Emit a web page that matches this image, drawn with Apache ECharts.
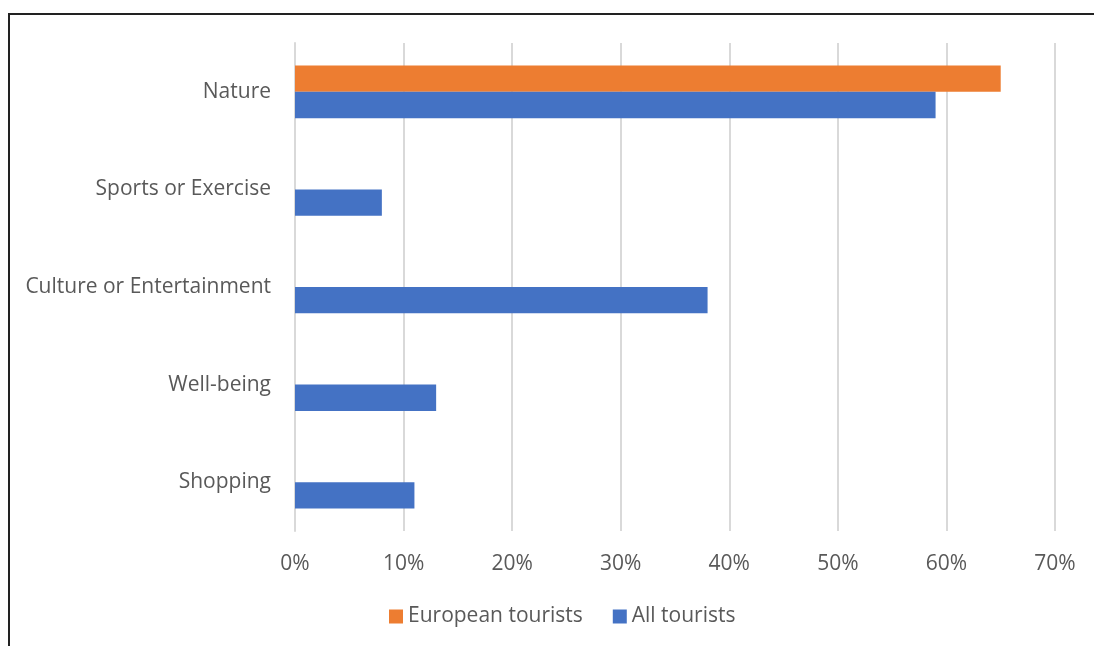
<!DOCTYPE html>
<html>
<head>
<meta charset="utf-8">
<script src="https://cdn.jsdelivr.net/npm/echarts@6/dist/echarts.min.js"></script>
<style>
  html, body { margin: 0; padding: 0; background: #fff; overflow: hidden; }
  #frame {
    position: absolute; left: 8px; top: 13px;
    width: 1200px; height: 800px;
    border-top: 2px solid #222; border-left: 2px solid #222;
  }
  #chart { position: absolute; left: 0; top: 0; width: 1094px; height: 646px; }
</style>
</head>
<body>
<div id="frame"></div>
<div id="chart"></div>
<script>
var categories = ['Nature', 'Sports or Exercise', 'Culture or Entertainment', 'Well-being', 'Shopping'];
var europeanTourists = [65, null, null, null, null];
var allTourists = [59, 8, 38, 13, 11];
var tickMax = 70;
var tickStep = 10;

var textColor = '#595959';
var fontName = '"Open Sans", "Noto Sans", sans-serif';

var chart = echarts.init(document.getElementById('chart'));
var option = {
  animation: false,
  backgroundColor: 'transparent',
  textStyle: { fontFamily: fontName },
  legend: {
    data: ['European tourists', 'All tourists'],
    left: 384,
    top: 601,
    itemWidth: 14,
    itemHeight: 14,
    itemGap: 30,
    icon: 'rect',
    textStyle: { color: textColor, fontSize: 21, fontFamily: fontName }
  },
  grid: { left: 295, right: 39, top: 43, bottom: 115, containLabel: false },
  xAxis: {
    type: 'value',
    min: 0,
    max: tickMax,
    interval: tickStep,
    axisLine: { show: false },
    axisTick: { show: false },
    splitLine: { lineStyle: { color: '#d9d9d9', width: 2 } },
    axisLabel: {
      color: textColor, fontSize: 21, fontFamily: fontName, margin: 23,
      formatter: function (v) { return v + '%'; }
    }
  },
  yAxis: {
    type: 'category',
    data: categories,
    inverse: true,
    axisLine: { show: true, lineStyle: { color: '#d9d9d9', width: 2 } },
    axisTick: { show: false },
    axisLabel: { color: textColor, fontSize: 21, fontFamily: fontName, margin: 24, padding: [4, 0, 0, 0] }
  },
  series: [
    {
      name: 'European tourists',
      type: 'bar',
      data: europeanTourists,
      itemStyle: { color: '#ED7D31' },
      barGap: '0%',
      barCategoryGap: '46%'
    },
    {
      name: 'All tourists',
      type: 'bar',
      data: allTourists,
      itemStyle: { color: '#4472C4' },
      barGap: '0%',
      barCategoryGap: '46%'
    }
  ]
};
chart.setOption(option);
</script>
</body>
</html>
